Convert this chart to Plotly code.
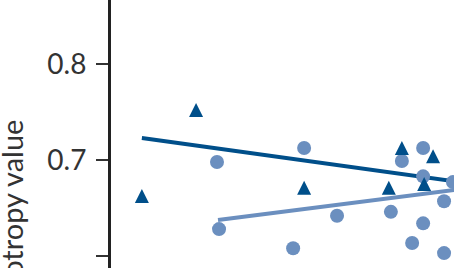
import plotly.graph_objects as go

# Data (x in arbitrary units, y = anisotropy value)
tri_x = [0.90, 2.48, 5.63, 8.10, 8.48, 9.13, 9.39]
tri_y = [0.6625, 0.752, 0.671, 0.671, 0.7125, 0.675, 0.704]

circ_x = [3.09, 3.15, 5.63, 5.31, 6.59, 8.16, 8.48, 9.10, 9.10, 9.10, 8.78, 9.71, 9.71, 9.97]
circ_y = [0.698, 0.628, 0.7125, 0.608, 0.642, 0.646, 0.699, 0.7125, 0.683, 0.634, 0.6135, 0.657, 0.603, 0.677]

# Trend lines (start / end)
tri_fit_x = [0.90, 10.5]
tri_fit_y = [0.723, 0.6755]
circ_fit_x = [3.12, 10.5]
circ_fit_y = [0.6375, 0.671]

y_ticks = [0.6, 0.7, 0.8]
y_tick_text = ["0.6", "0.7", "0.8"]

dark = "#004f8a"
light = "#6b8fbf"

fig = go.Figure()
fig.add_trace(go.Scatter(x=tri_fit_x, y=tri_fit_y, mode="lines",
                         line=dict(color=dark, width=4), hoverinfo="skip"))
fig.add_trace(go.Scatter(x=circ_fit_x, y=circ_fit_y, mode="lines",
                         line=dict(color=light, width=4), hoverinfo="skip"))
fig.add_trace(go.Scatter(x=circ_x, y=circ_y, mode="markers",
                         marker=dict(symbol="circle", size=14, color=light)))
# invisible carrier trace for triangle hover
fig.add_trace(go.Scatter(x=tri_x, y=tri_y, mode="markers",
                         marker=dict(symbol="triangle-up", size=14, color=dark, opacity=0)))

# triangles drawn as pixel-sized shapes anchored at the data values (near-equilateral glyph)
tri_shapes = []
for xv, yv in zip(tri_x, tri_y):
    tri_shapes.append(dict(type="path", xref="x", yref="y",
                           xsizemode="pixel", ysizemode="pixel",
                           xanchor=xv, yanchor=yv,
                           path="M-7,-7 L7,-7 L0,7 Z",
                           fillcolor=dark, line=dict(width=0), layer="above"))

font_family = "Lato, Open Sans, sans-serif"

fig.update_layout(
    width=454, height=268,
    margin=dict(l=111, r=0, t=0, b=0),
    paper_bgcolor="white", plot_bgcolor="white",
    showlegend=False,
    font=dict(family=font_family, color="#333333"),
    xaxis=dict(range=[0, 10], visible=False, showgrid=False, zeroline=False),
    yaxis=dict(range=[0.5875, 0.8667], showgrid=False, zeroline=False,
               showline=True, linewidth=3, linecolor="#222222",
               ticks="outside", ticklen=12, tickwidth=2, tickcolor="#333333",
               tickvals=y_ticks, ticktext=y_tick_text,
               tickfont=dict(size=28, family=font_family, color="#333333"),
               ticklabelstandoff=4),
    shapes=tri_shapes,
    annotations=[dict(text="Anisotropy value", textangle=-90,
                      xref="paper", x=-0.292, xanchor="center",
                      yref="y", y=0.7435, yanchor="top",
                      showarrow=False,
                      font=dict(size=29, family=font_family, color="#333333"))],
)

fig.write_html("out.html", config={"displayModeBar": False},
               post_script="document.body.style.margin='0';document.body.style.overflow='hidden';")
